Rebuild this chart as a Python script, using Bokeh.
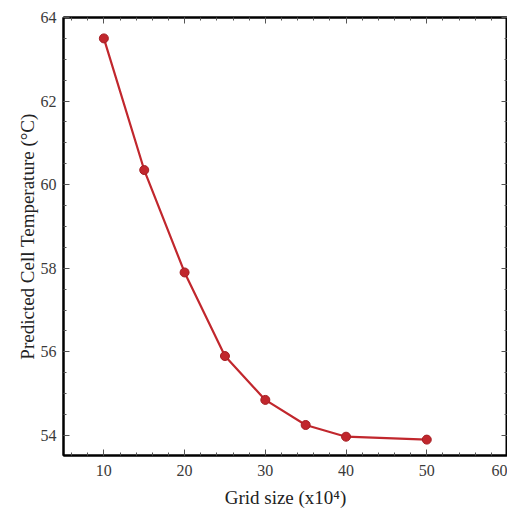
from bokeh.plotting import figure
from bokeh.models import LinearAxis, SingleIntervalTicker, Range1d, CustomJSTickFormatter
from bokeh.embed import file_html
from bokeh.resources import INLINE

grid_size = [10, 15, 20, 25, 30, 35, 40, 50]
cell_temp = [63.5, 60.35, 57.9, 55.9, 54.85, 54.25, 53.97, 53.9]

x_range = (5, 60)
y_range = (53.52, 64.0)

RED = "#c1272d"
FONT = "Liberation Serif"

p = figure(width=507, height=510, output_backend="svg", toolbar_location=None,
           x_range=Range1d(*x_range), y_range=Range1d(*y_range),
           min_border_left=63, min_border_right=0, min_border_top=17, min_border_bottom=54,
           x_axis_label="Grid size (x10⁴)", y_axis_label="Predicted Cell Temperature (°C)")
p.xgrid.visible = False
p.ygrid.visible = False
p.outline_line_color = "black"
p.outline_line_width = 2

xt = SingleIntervalTicker(interval=10, num_minor_ticks=5)
yt = SingleIntervalTicker(interval=2, num_minor_ticks=4)

def style(ax, labels=True):
    ax.axis_line_color = "black"
    ax.axis_line_width = 2
    ax.major_tick_in = 6
    ax.major_tick_out = 0
    ax.minor_tick_in = 3
    ax.minor_tick_out = 0
    ax.major_tick_line_color = "#555555"
    ax.minor_tick_line_color = "#555555"
    ax.major_tick_line_width = 1
    ax.minor_tick_line_width = 1
    ax.major_label_text_font = FONT
    ax.major_label_text_font_size = "16px"
    ax.major_label_text_color = "#3a3a3a"
    ax.axis_label_text_font = FONT
    ax.axis_label_text_font_size = "19px"
    ax.axis_label_text_font_style = "normal"
    ax.axis_label_text_color = "#222222"
    if not labels:
        ax.formatter = CustomJSTickFormatter(code="return ''")
        ax.major_label_text_font_size = "0px"
        ax.major_label_standoff = 0
        ax.axis_label = None

p.xaxis[0].ticker = xt
p.yaxis[0].ticker = yt
style(p.xaxis[0])
style(p.yaxis[0])
p.xaxis[0].major_label_standoff = 9
p.xaxis[0].axis_label_standoff = 8
p.yaxis[0].major_label_standoff = 7
p.yaxis[0].axis_label_standoff = 0

top = LinearAxis(ticker=SingleIntervalTicker(interval=10, num_minor_ticks=5))
style(top, labels=False)
p.add_layout(top, "above")
right = LinearAxis(ticker=SingleIntervalTicker(interval=2, num_minor_ticks=4))
style(right, labels=False)
p.add_layout(right, "right")

p.line(grid_size, cell_temp, line_color=RED, line_width=2.2)
p.scatter(grid_size, cell_temp, size=9, fill_color=RED, line_color="#a51e23")

open("out.html", "w").write(file_html(p, INLINE))
